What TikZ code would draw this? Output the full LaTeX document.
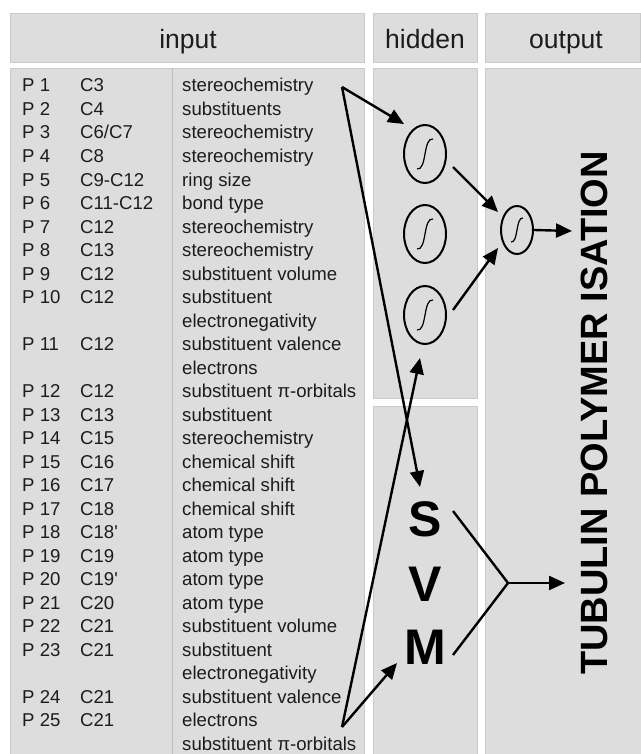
\documentclass[tikz,border=0pt]{standalone}
\usepackage{fontspec}
\setmainfont{Liberation Sans}
\usetikzlibrary{arrows.meta,shapes.geometric}
\definecolor{boxgray}{HTML}{DDDDDD}
\definecolor{boxline}{HTML}{CACACA}
\definecolor{divline}{HTML}{BDBDBD}
\definecolor{txt}{HTML}{1C1C1C}
\tikzset{
  panel/.style={fill=boxgray, draw=boxline, line width=0.8pt},
  rowtext/.style={anchor=base west, inner sep=0pt, font=\fontsize{18.6}{20}\selectfont, text=txt},
  headtext/.style={anchor=base, inner sep=0pt, font=\fontsize{26.5}{28}\selectfont, text=txt},
  neuron/.style={draw, ellipse, minimum width=42pt, minimum height=58pt, line width=2pt, inner sep=0pt},
  smallneuron/.style={draw, ellipse, minimum width=32pt, minimum height=48pt, line width=2pt, inner sep=0pt},
  conn/.style={line width=2.4pt, -{Triangle[length=16pt,width=14pt]}},
  plainconn/.style={line width=2.4pt},
  bigletter/.style={font=\fontsize{50}{50}\bfseries\selectfont, inner sep=0pt, text=black},
  sigm/.style={line width=1.2pt}
}
\newcommand\prow[4]{%
  \node[rowtext] (p#1) at (22,{92+23.5*#1}) {#2};
  \node[rowtext] (c#1) at (80,{92+23.5*#1}) {#3};
  \node[rowtext] (d#1) at (182,{92+23.5*#1}) {#4};}
\newcommand\crow[2]{%
  \node[rowtext] (d#1) at (182,{92+23.5*#1}) {#2};}
\begin{document}
\begin{tikzpicture}[x=1pt,y=-1pt]
\useasboundingbox (0,0) rectangle (640,754);
\fill[white] (0,0) rectangle (640,754);
% header panels
\path[panel] (10,13) rectangle (364,62);
\path[panel] (373,13) rectangle (477,62);
\path[panel] (485,13) rectangle (640,62);
\node[headtext] (hin) at (188,49) {input};
\node[headtext] (hhid) at (425,49) {hidden};
\node[headtext] (hout) at (566,49) {output};
% body panels
\path[panel] (10,68) rectangle (364,760);
\draw[divline, line width=0.8pt] (172,68) -- (172,760);
\path[panel] (373,68) rectangle (477,398);
\path[panel] (373,406) rectangle (477,760);
\path[panel] (485,68) rectangle (642,760);
% rows
\prow{0}{P 1}{C3}{stereochemistry}
\prow{1}{P 2}{C4}{substituents}
\prow{2}{P 3}{C6/C7}{stereochemistry}
\prow{3}{P 4}{C8}{stereochemistry}
\prow{4}{P 5}{C9-C12}{ring size}
\prow{5}{P 6}{C11-C12}{bond type}
\prow{6}{P 7}{C12}{stereochemistry}
\prow{7}{P 8}{C13}{stereochemistry}
\prow{8}{P 9}{C12}{substituent volume}
\prow{9}{P 10}{C12}{substituent}
\crow{10}{electronegativity}
\prow{11}{P 11}{C12}{substituent valence}
\crow{12}{electrons}
\prow{13}{P 12}{C12}{substituent π-orbitals}
\prow{14}{P 13}{C13}{substituent}
\prow{15}{P 14}{C15}{stereochemistry}
\prow{16}{P 15}{C16}{chemical shift}
\prow{17}{P 16}{C17}{chemical shift}
\prow{18}{P 17}{C18}{chemical shift}
\prow{19}{P 18}{C18\textquotesingle}{atom type}
\prow{20}{P 19}{C19}{atom type}
\prow{21}{P 20}{C19\textquotesingle}{atom type}
\prow{22}{P 21}{C20}{atom type}
\prow{23}{P 22}{C21}{substituent volume}
\prow{24}{P 23}{C21}{substituent}
\crow{25}{electronegativity}
\prow{26}{P 24}{C21}{substituent valence}
\prow{27}{P 25}{C21}{electrons}
\crow{28}{substituent π-orbitals}
% neurons
\node[neuron] (h1) at (425,154) {};
\node[neuron] (h2) at (425,234) {};
\node[neuron] (h3) at (425,315) {};
\node[smallneuron] (o1) at (517,230) {};
\foreach \n in {h1,h2,h3}{
  \draw[sigm] ([shift={(-8,15)}]\n.center) .. controls ([shift={(2,17)}]\n.center) and ([shift={(-2,-17)}]\n.center) .. ([shift={(8,-15)}]\n.center);
}
\draw[sigm] ([shift={(-6,12)}]o1.center) .. controls ([shift={(1.5,13)}]o1.center) and ([shift={(-1.5,-13)}]o1.center) .. ([shift={(6,-12)}]o1.center);
% SVM letters
\node[bigletter] (S) at (425,519) {S};
\node[bigletter] (V) at (425,584) {V};
\node[bigletter] (M) at (425,647) {M};
% output label
\node[rotate=90, inner sep=0pt, font=\fontsize{38}{38}\bfseries\selectfont, text=black] (tub) at (594,413) {TUBULIN POLYMER ISATION};
% connector points
\coordinate (apexT) at (342,87);
\coordinate (apexB) at (342,727);
\coordinate (h1in) at (404,124);
\coordinate (h3in) at (420,358);
\coordinate (Sin) at (420,487);
\coordinate (Min) at (397,663);
\coordinate (h1out) at (453,167);
\coordinate (h3out) at (453,310);
\coordinate (o1a) at (498,212);
\coordinate (o1b) at (498,248);
\coordinate (o1out) at (572,231);
\coordinate (Sout) at (453,511);
\coordinate (Mout) at (453,655);
\coordinate (junc) at (508,583);
\coordinate (svmout) at (565,583);
% connectors
\draw[conn] (apexT) -- (h1in);
\draw[conn] (apexT) -- (Sin);
\draw[conn] (apexB) -- (Min);
\draw[conn] (apexB) -- (h3in);
\draw[conn] (h1out) -- (o1a);
\draw[conn] (h3out) -- (o1b);
\draw[conn] (o1.east) -- (o1out);
\draw[plainconn, line join=miter] (Sout) -- (junc) -- (Mout);
\draw[conn] (junc) -- (svmout);
\end{tikzpicture}
\end{document}
